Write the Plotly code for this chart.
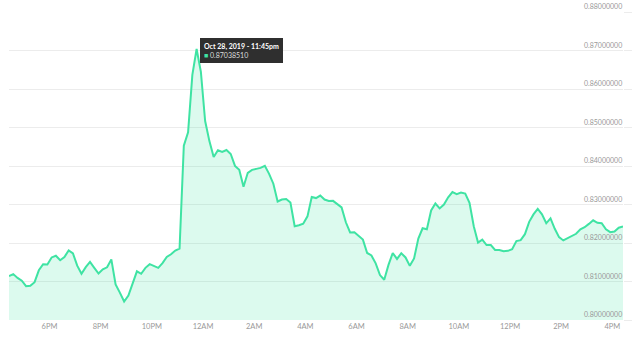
import pandas as pd
import plotly.graph_objects as go

# 10-minute samples from Oct 28, 2019 4:25pm to Oct 29, 2019 4:25pm
start_time = "2019-10-28 16:25"
step = "10min"
prices = [
    0.81141, 0.81193, 0.81093, 0.81021, 0.80879, 0.80890, 0.80982, 0.81291, 0.81450, 0.81442,
    0.81625, 0.81669, 0.81553, 0.81638, 0.81805, 0.81728, 0.81411, 0.81201, 0.81373, 0.81507,
    0.81355, 0.81208, 0.81316, 0.81368, 0.81573, 0.80926, 0.80712, 0.80481, 0.80635, 0.80944,
    0.81265, 0.81201, 0.81355, 0.81450, 0.81399, 0.81355, 0.81476, 0.81638, 0.81707, 0.81805,
    0.81856, 0.84525, 0.84877, 0.86368, 0.87038510, 0.86446, 0.85168, 0.84646, 0.84234, 0.84407,
    0.84363, 0.84414, 0.84312, 0.84003, 0.83900, 0.83463, 0.83823, 0.83900, 0.83926, 0.83952,
    0.84003, 0.83797, 0.83540, 0.83078, 0.83129, 0.83142, 0.83052, 0.82435, 0.82460, 0.82499,
    0.82692, 0.83193, 0.83167, 0.83232, 0.83129, 0.83090, 0.83095, 0.83000, 0.82923, 0.82538,
    0.82273, 0.82281, 0.82191, 0.82088, 0.81741, 0.81676, 0.81471, 0.81167, 0.81046, 0.81432,
    0.81741, 0.81586, 0.81735, 0.81625, 0.81406, 0.81599, 0.82113, 0.82383, 0.82358, 0.82846,
    0.83026, 0.82898, 0.83000, 0.83188, 0.83322, 0.83270, 0.83309, 0.83283, 0.83044, 0.82435,
    0.82011, 0.82088, 0.81946, 0.81946, 0.81818, 0.81818, 0.81784, 0.81797, 0.81836, 0.82049,
    0.82075, 0.82229, 0.82550, 0.82743, 0.82885, 0.82743, 0.82512, 0.82640, 0.82370, 0.82152,
    0.82067, 0.82126, 0.82178, 0.82239, 0.82358, 0.82409, 0.82496, 0.82589, 0.82525, 0.82512,
    0.82358, 0.82281, 0.82299, 0.82396, 0.82427,
]
y_ticks = [0.80, 0.81, 0.82, 0.83, 0.84, 0.85, 0.86, 0.87, 0.88]
y_tick_labels = ["0.80000000", "0.81000000", "0.82000000", "0.83000000", "0.84000000",
                 "0.85000000", "0.86000000", "0.87000000", "0.88000000"]
x_tick_start = "2019-10-28 18:00"
tooltip_index = 44
tooltip_title = "Oct 28, 2019 - 11:45pm"
tooltip_value = "0.87038510"

times = pd.date_range(start_time, periods=len(prices), freq=step)

LINE = "#3fe3a3"
FILL = "rgba(63,227,163,0.18)"
GRID = "#ececec"
LABEL = "#999999"
FONT = "Lato"

fig = go.Figure()
fig.add_trace(go.Scatter(
    x=times, y=prices, mode="lines",
    line=dict(color=LINE, width=2),
    fill="tozeroy", fillcolor=FILL,
    hoverinfo="skip", showlegend=False,
))

# y-axis labels drawn inside the plot, just above each gridline
for val, lab in zip(y_ticks, y_tick_labels):
    fig.add_annotation(
        x=1, xref="paper", y=val, yref="y", text=lab,
        showarrow=False, xanchor="right", yanchor="bottom",
        xshift=1, yshift=0,
        font=dict(family=FONT, size=7, color=LABEL),
    )

fig.add_annotation(
    x=times[tooltip_index], y=prices[tooltip_index], xref="x", yref="y",
    text=(f"<b>{tooltip_title}</b><br>"
          f"<span style='color:{LINE}'>■</span><span style='color:#dddddd'> {tooltip_value}</span>"),
    showarrow=False, xanchor="left", yanchor="top", align="left",
    xshift=3, yshift=11,
    bgcolor="#2f2f2f", bordercolor="#2f2f2f", borderpad=3,
    font=dict(family=FONT, size=7, color="#ffffff"),
)

fig.update_layout(
    width=640, height=340,
    margin=dict(l=9, r=9, t=12, b=17),
    paper_bgcolor="white", plot_bgcolor="white",
    font=dict(family=FONT, size=7, color=LABEL),
    xaxis=dict(
        type="date", range=[times[0], times[-1]],
        tick0=x_tick_start, dtick=2 * 3600 * 1000, tickformat="%-I%p",
        showgrid=False, zeroline=False, showline=False, ticks="",
        tickfont=dict(family=FONT, size=7.5, color=LABEL),
    ),
    yaxis=dict(
        side="right", range=[y_ticks[0], y_ticks[-1]], tickvals=y_ticks,
        showticklabels=False,
        showgrid=True, gridcolor=GRID, gridwidth=1, zeroline=False, showline=False,
        ticks="outside", ticklen=8, tickcolor=GRID,
    ),
)

fig.write_html("out.html")
